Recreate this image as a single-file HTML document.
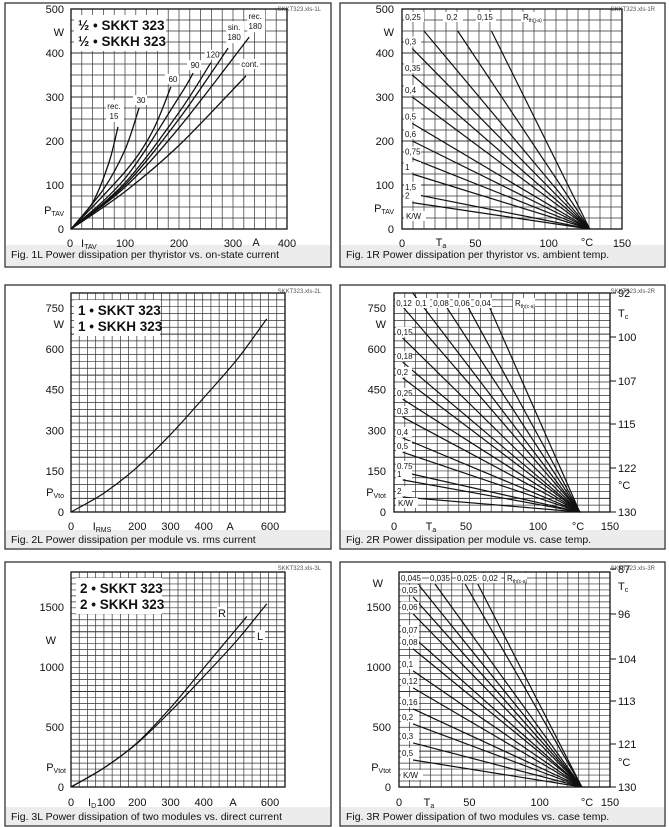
<!DOCTYPE html>
<html><head><meta charset="utf-8"><style>
body{margin:0;background:#fff;}
svg{display:block;font-family:"Liberation Sans",sans-serif;}
</style></head><body>
<svg id="s" width="669" height="827" viewBox="0 0 669 827"></svg>
<script>
// ---------- data ----------
const curves1L_names=["rec. 15","30","60","90","120","sin. 180","rec. 180","cont."];
const curves1L=[
 [[0,0],[40,60],[70,150],[87,232]],
 [[0,0],[60,90],[100,180],[126,275]],
 [[0,0],[100,130],[150,220],[185,323]],
 [[0,0],[100,115],[200,300],[226,354]],
 [[0,0],[100,105],[200,265],[259,378]],
 [[0,0],[100,100],[200,250],[291,411]],
 [[0,0],[100,95],[200,230],[330,436]],
 [[0,0],[100,85],[200,190],[324,348]]
];
const r1R_labels=["0,25","0,2","0,15","0,3","0,35","0,4","0,5","0,6","0,75","1","1,5","2"];
const r1R_startT=[15,38,61,7,7,7,7,7,7,7,7,7];
const r1R_startP=[450,450,450,410,350,300,240,200,160,125,80,60];
const conv1R=128;
const curve2L=[[0,0],[100,70],[200,165],[300,285],[400,420],[500,560],[590,710]];
const r2R_labels=["0,12","0,1","0,08","0,06","0,04","0,15","0,18","0,2","0,25","0,3","0,4","0,5","0,75","1","2"];
const r2R_startT=[6,13,36,51,66,6,6,6,6,6,6,6,6,6,6];
const r2R_startP=[755,805,757,757,757,640,551,493,415,349,272,220,147,118,55];
const conv2R=129;
const curve3L_R=[[0,0],[100,160],[200,370],[300,660],[400,990],[530,1420]];
const curve3L_L=[[0,0],[100,160],[200,365],[300,630],[400,920],[500,1220],[590,1525]];
const r3R_labels=["0,045","0,035","0,025","0,02","0,05","0,06","0,07","0,08","0,1","0,12","0,16","0,2","0,3","0,5"];
const r3R_startT=[13.5,25.6,47,56,10,10,10,10,10,10,10,10,10,10];
const r3R_startP=[1690,1690,1690,1690,1583,1442,1250,1150,967,825,650,525,367,225];
const conv3R=130;

const NS="http://www.w3.org/2000/svg";
const svg=document.getElementById('s');
function el(tag,attrs,parent,text){const e=document.createElementNS(NS,tag);for(const k in attrs)e.setAttribute(k,attrs[k]);if(text!==undefined)e.textContent=text;(parent||svg).appendChild(e);return e;}
function mk(px,py,xr,yr){return{x:v=>px[0]+(v-xr[0])/(xr[1]-xr[0])*(px[1]-px[0]),y:v=>py[1]-(v-yr[0])/(yr[1]-yr[0])*(py[1]-py[0]),px,py};}
function frame(x,y,w,h,cap,capY,code){
 const g=el('g',{});
 
 
 el('rect',{x:x,y:y,width:w,height:h,fill:'#fff',stroke:'#222','stroke-width':1.2},g);
 const b=el('rect',{x:x+1,y:capY,width:w-2,height:y+h-capY-1,fill:'#ececec'},g);
 
 const t=el('text',{x:x+6,y:capY+13,'font-size':10.5,fill:'#111'},g,cap);
 
 const c=el('text',{x:x+w-10,y:y+8,'font-size':6,'text-anchor':'end',fill:'#555'},g,code);
 
 return g;}
function grid(s,cols,rows,major){
 const g=el('g',{});
 
 const [x0,x1]=s.px,[y0,y1]=s.py;
 for(let i=0;i<=cols;i++){const x=x0+(x1-x0)*i/cols;el('line',{x1:x,y1:y0,x2:x,y2:y1,stroke:'#333','stroke-width':0.7},g);}
 for(let j=0;j<=rows;j++){const y=y0+(y1-y0)*j/rows;el('line',{x1:x0,y1:y,x2:x1,y2:y,stroke:'#333','stroke-width':(major&&j%major==0)?1:0.7},g);}
 el('rect',{x:x0,y:y0,width:x1-x0,height:y1-y0,fill:'none',stroke:'#111','stroke-width':1.3},g);
 return g;}
function txt(x,y,s,size,anchor,name,weight){const t=el('text',{x:x,y:y,'font-size':size||11,'text-anchor':anchor||'start',fill:'#111','font-weight':weight||'normal'});t.innerHTML=s;return t;}
function smooth(s,pts){
 const p=pts.map(q=>[s.x(q[0]),s.y(q[1])]);let d='M'+p[0][0]+','+p[0][1];
 for(let i=0;i<p.length-1;i++){const a=p[Math.max(0,i-1)],b=p[i],c=p[i+1],e=p[Math.min(p.length-1,i+2)];
  d+=' C'+(b[0]+(c[0]-a[0])/6)+','+(b[1]+(c[1]-a[1])/6)+' '+(c[0]-(e[0]-b[0])/6)+','+(c[1]-(e[1]-b[1])/6)+' '+c[0]+','+c[1];}
 return d;}
function titleBox(x,y,w,l1,l2){const g=el('g',{});
 el('rect',{x:x,y:y,width:w,height:36,fill:'#fff'},g);
 el('text',{x:x+4,y:y+15,'font-size':13.5,'font-weight':'bold',fill:'#111'},g,l1);
 el('text',{x:x+4,y:y+31,'font-size':13.5,'font-weight':'bold',fill:'#111'},g,l2);}

// ---------- 1L ----------
frame(5,3,326,264,"Fig. 1L Power dissipation per thyristor vs. on-state current",245,"SKKT323.xls-1L");
let s=mk([71,287],[9,229],[0,400],[0,500]);
grid(s,20,20,4);
titleBox(74,15,92,"½ • SKKT 323","½ • SKKH 323");
[0,100,200,300,400,500].forEach(v=>txt(64,s.y(v)+4,v,11,'end','y-tick'));
txt(64,36,"W",11,'end','y-axis-unit');txt(64,214,"P<tspan font-size='7' dy='2'>TAV</tspan>",11,'end','y-axis-title');
[0,100,200,300,400].forEach(v=>txt(s.x(v)+(v==0?-1:0),247,v,11,'middle','x-tick'));
txt(81,247,"I<tspan font-size='7' dy='2'>TAV</tspan>",11,'start','x-axis-title');txt(256,246,"A",11,'middle','x-axis-unit');
curves1L.forEach((c,i)=>{const p=el('path',{d:smooth(s,c),fill:'none',stroke:'#111','stroke-width':1.3});
 
 const e=c[c.length-1],parts=curves1L_names[i].split(' ');
 if(parts.length==2){const lx=s.x(e[0])+(i==0?-4:6),ly=s.y(e[1])-18;el('rect',{x:lx-8,y:ly-9,width:18,height:22,fill:'#fff'});txt(lx,ly,parts[0],8,'middle','curve-label');txt(lx,ly+10,parts[1],8,'middle','curve-label');}
 else{const lx=s.x(e[0])+2,ly=i==7?s.y(e[1])-9:s.y(e[1])-5;el('rect',{x:lx-8,y:ly-8,width:i==7?20:14,height:10,fill:'#fff'});txt(lx+(i==7?2:0),ly,parts[0],8,'middle','curve-label');}
});

function rFamily(s,labels,st,sp,conv){
 labels.forEach((l,i)=>{const ln=el('line',{x1:s.x(st[i]),y1:s.y(sp[i]),x2:s.x(conv),y2:s.y(0),stroke:'#111','stroke-width':1.2});
  });
}

// ---------- 1R ----------
frame(340,3,325,264,"Fig. 1R Power dissipation per thyristor vs. ambient temp.",245,"SKKT323.xls-1R");
s=mk([402,622],[9,229],[0,150],[0,500]);
grid(s,20,20,4);
rFamily(s,r1R_labels,r1R_startT,r1R_startP,conv1R);
[0,100,200,300,400,500].forEach(v=>txt(394,s.y(v)+4,v,11,'end','y-tick'));
txt(394,36,"W",11,'end','y-axis-unit');txt(394,212,"P<tspan font-size='7' dy='2'>TAV</tspan>",11,'end','y-axis-title');
[0,50,100,150].forEach(v=>txt(s.x(v),247,v,11,'middle','x-tick'));
txt(441,246,"T<tspan font-size='7' dy='2'>a</tspan>",11,'middle','x-axis-title');txt(587,246,"°C",11,'middle','x-axis-unit');
[[413,20,"0,25"],[452,20,"0,2"],[485,20,"0,15"]].forEach(a=>{el('rect',{x:a[0]-9,y:12,width:20,height:10,fill:'#fff'});txt(a[0],20,a[2],8,'middle','rth-label');});
el('rect',{x:521,y:12,width:22,height:10,fill:'#fff'});txt(523,20,"R<tspan font-size='5' dy='2'>th(j-a)</tspan>",8,'start','rth-title');
r1R_labels.slice(3).forEach((l,i)=>{const y=s.y(r1R_startP[i+3])-4;el('rect',{x:404,y:y-8,width:17,height:10,fill:'#fff'});txt(405,y,l,8,'start','rth-label');});
el('rect',{x:404,y:211,width:22,height:10,fill:'#fff'});txt(406,219,"K/W",8,'start','rth-unit');

// ---------- 2L ----------
frame(5,285,326,264,"Fig. 2L Power dissipation per module vs. rms current",530,"SKKT323.xls-2L");
s=mk([71,285],[293,512],[0,645],[0,805]);
grid(s,26,32,6);
titleBox(74,300,86,"1 • SKKT 323","1 • SKKH 323");
[0,150,300,450,600,750].forEach(v=>txt(64,s.y(v)+4,v,11,'end','y-tick'));
txt(64,328,"W",11,'end','y-axis-unit');txt(64,496,"P<tspan font-size='7' dy='2'>Vto</tspan>",11,'end','y-axis-title');
[0,200,300,400,600].forEach(v=>txt(s.x(v),530,v,11,'middle','x-tick'));
txt(102,530,"I<tspan font-size='7' dy='2'>RMS</tspan>",11,'middle','x-axis-title');txt(230,530,"A",11,'middle','x-axis-unit');
let p=el('path',{d:smooth(s,curve2L),fill:'none',stroke:'#111','stroke-width':1.2});


// ---------- 2R ----------
frame(340,285,325,264,"Fig. 2R Power dissipation per module vs. case temp.",530,"SKKT323.xls-2R");
s=mk([394,610],[293,512],[0,150],[0,805]);
grid(s,20,32,6);
rFamily(s,r2R_labels,r2R_startT,r2R_startP,conv2R);
[0,150,300,450,600,750].forEach(v=>txt(386,s.y(v)+4,v,11,'end','y-tick'));
txt(386,328,"W",11,'end','y-axis-unit');txt(386,496,"P<tspan font-size='7' dy='2'>Vtot</tspan>",11,'end','y-axis-title');
[0,50,100,150].forEach(v=>txt(s.x(v),530,v,11,'middle','x-tick'));
txt(431,530,"T<tspan font-size='7' dy='2'>a</tspan>",11,'middle','x-axis-title');txt(578,530,"°C",11,'middle','x-axis-unit');
[["92",293],["100",337],["107",381],["115",424],["122",468],["130",512]].forEach(a=>{el('line',{x1:610,y1:a[1],x2:616,y2:a[1],stroke:'#111'});txt(618,a[1]+4,a[0],11,'start','tc-tick');});
txt(618,317,"T<tspan font-size='7' dy='2'>c</tspan>",11,'start','tc-axis-title');txt(618,489,"°C",11,'start','tc-axis-unit');
[[404,"0,12"],[421,"0,1"],[441,"0,08"],[462,"0,06"],[483,"0,04"]].forEach(a=>{el('rect',{x:a[0]-9,y:298,width:18,height:10,fill:'#fff'});txt(a[0],306,a[1],8,'middle','rth-label');});
el('rect',{x:513,y:298,width:22,height:10,fill:'#fff'});txt(515,306,"R<tspan font-size='5' dy='2'>th(c-a)</tspan>",8,'start','rth-title');
r2R_labels.slice(5).forEach((l,i)=>{const y=s.y(r2R_startP[i+5])-3;el('rect',{x:396,y:y-8,width:16,height:10,fill:'#fff'});txt(397,y,l,8,'start','rth-label');});
el('rect',{x:396,y:498,width:22,height:10,fill:'#fff'});txt(398,506,"K/W",8,'start','rth-unit');

// ---------- 3L ----------
frame(5,562,326,264,"Fig. 3L Power dissipation of two modules vs. direct current",807,"SKKT323.xls-3L");
s=mk([71,285],[572,787],[0,645],[0,1790]);
grid(s,26,36,10);
titleBox(76,578,86,"2 • SKKT 323","2 • SKKH 323");
[0,500,1000,1500].forEach(v=>txt(64,s.y(v)+4,v,11,'end','y-tick'));
txt(56,644,"W",11,'end','y-axis-unit');txt(66,771,"P<tspan font-size='7' dy='2'>Vtot</tspan>",11,'end','y-axis-title');
[0,200,300,400,600].forEach(v=>txt(s.x(v),806,v,11,'middle','x-tick'));
txt(88,806,"I<tspan font-size='7' dy='2'>D</tspan>",11,'start','x-axis-title');txt(106,806,"100",11,'middle','x-tick');txt(233,806,"A",11,'middle','x-axis-unit');
[[curve3L_R,'curve-r',"R",222,617],[curve3L_L,'curve-l',"L",260,640]].forEach(a=>{const q=el('path',{d:smooth(s,a[0]),fill:'none',stroke:'#111','stroke-width':1.2});
 
 el('rect',{x:a[3]-5,y:a[4]-10,width:10,height:12,fill:'#fff'});txt(a[3],a[4],a[2],11,'middle','curve-label');});

// ---------- 3R ----------
frame(340,562,325,264,"Fig. 3R Power dissipation of two modules vs. case temp.",807,"SKKT323.xls-3R");
s=mk([399,610],[572,787],[0,150],[0,1790]);
grid(s,20,36,10);
rFamily(s,r3R_labels,r3R_startT,r3R_startP,conv3R);
[0,500,1000,1500].forEach(v=>txt(391,s.y(v)+4,v,11,'end','y-tick'));
txt(383,587,"W",11,'end','y-axis-unit');txt(391,771,"P<tspan font-size='7' dy='2'>Vtot</tspan>",11,'end','y-axis-title');
[0,50,100,150].forEach(v=>txt(s.x(v),806,v,11,'middle','x-tick'));
txt(429,806,"T<tspan font-size='7' dy='2'>a</tspan>",11,'middle','x-axis-title');txt(587,806,"°C",11,'middle','x-axis-unit');
[["87",569],["96",614],["104",659],["113",701],["121",744],["130",787]].forEach(a=>{el('line',{x1:610,y1:a[1],x2:616,y2:a[1],stroke:'#111'});txt(618,a[1]+4,a[0],11,'start','tc-tick');});
txt(618,590,"T<tspan font-size='7' dy='2'>c</tspan>",11,'start','tc-axis-title');txt(618,766,"°C",11,'start','tc-axis-unit');
[[411,"0,045"],[440,"0,035"],[467,"0,025"],[490,"0,02"]].forEach(a=>{el('rect',{x:a[0]-11,y:573,width:22,height:10,fill:'#fff'});txt(a[0],581,a[1],8,'middle','rth-label');});
el('rect',{x:505,y:573,width:22,height:10,fill:'#fff'});txt(507,581,"R<tspan font-size='5' dy='2'>th(c-a)</tspan>",8,'start','rth-title');
r3R_labels.slice(4).forEach((l,i)=>{const y=s.y(r3R_startP[i+4])-4;el('rect',{x:401,y:y-8,width:18,height:10,fill:'#fff'});txt(402,y,l,8,'start','rth-label');});
el('rect',{x:401,y:770,width:22,height:10,fill:'#fff'});txt(403,778,"K/W",8,'start','rth-unit');
</script>
</body></html>
